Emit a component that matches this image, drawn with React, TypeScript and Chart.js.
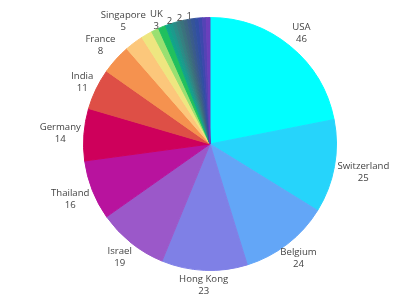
import React, { useEffect, useRef } from "react";
import { Chart, registerables } from "chart.js";

Chart.register(...registerables);

const countries = [
  "USA", "Switzerland", "Belgium", "Hong Kong", "Israel", "Thailand", "Germany",
  "India", "France", "Singapore", "UK", "", "", "", "", "", "", "", "", "", "", "", "", "", "",
];
const values = [46, 25, 24, 23, 19, 16, 14, 11, 8, 5, 3, 2, 2, 1, 1, 1, 1, 1, 1, 1, 1, 1, 1, 1, 1];
const colors = [
  "#00FFFF", "#26D4FB", "#63A6F7", "#7F80E6", "#9B58C9", "#B8139E", "#CE005B",
  "#DE4F46", "#F5924F", "#FCC77B", "#EEE680", "#99E071", "#20C05E", "#10A58A",
  "#1B9A8C", "#2A8C86", "#357F80", "#3A727C", "#3C6680", "#3A5C8A", "#355597",
  "#314FA3", "#3D48AD", "#5443B5", "#6A3FBC",
];
const labeledCount = 14;

const FONT_SIZE = 9.6;
const LINE_H = 12;
const TEXT_COLOR = "#444444";

type Box = { cx: number; cy: number; l: number; r: number; t: number; b: number };

const outsideLabels = {
  id: "outsideLabels",
  afterDatasetsDraw(chart: any) {
    const ctx = chart.ctx;
    const meta = chart.getDatasetMeta(0);
    ctx.save();
    ctx.font = `${FONT_SIZE}px "Open Sans"`;
    ctx.fillStyle = TEXT_COLOR;
    ctx.textAlign = "center";
    ctx.textBaseline = "middle";
    const placed: Box[] = [];
    const gap = 3;
    const pad = 4;
    const overlaps = (bx: Box) =>
      placed.some((p) => bx.l < p.r + pad && bx.r > p.l - pad && bx.t < p.b && bx.b > p.t);
    for (let i = 0; i < Math.min(labeledCount, meta.data.length); i++) {
      const arc = meta.data[i];
      const { x, y, startAngle, endAngle, outerRadius } = arc.getProps(
        ["x", "y", "startAngle", "endAngle", "outerRadius"],
        true
      );
      const name = countries[i];
      const lines = name ? [name, String(values[i])] : [String(values[i])];
      const w = Math.max(...lines.map((s) => ctx.measureText(s).width));
      const h = lines.length * LINE_H;
      const make = (cx: number, cy: number): Box => ({
        cx, cy, l: cx - w / 2, r: cx + w / 2, t: cy - h / 2, b: cy + h / 2,
      });
      const a = (startAngle + endAngle) / 2;
      const ux = Math.cos(a);
      const uy = Math.sin(a);
      const t = Math.min(
        Math.abs(ux) > 1e-6 ? w / 2 / Math.abs(ux) : Infinity,
        Math.abs(uy) > 1e-6 ? h / 2 / Math.abs(uy) : Infinity
      );
      const d = outerRadius + gap + t;
      let box = make(x + d * ux, y + d * uy);
      if (overlaps(box)) {
        const vdir = uy < 0 ? -1 : 1;
        let found: Box | null = null;
        for (let s = 0.5; s <= 10; s += 0.5) {
          const cand = make(box.cx, box.cy + vdir * s);
          if (!overlaps(cand)) { found = cand; break; }
        }
        if (!found) {
          // slide along the clockwise tangent direction horizontally
          const hdir = uy < 0 ? 1 : -1;
          let s = 0.5;
          let cand = make(box.cx + hdir * s, box.cy);
          while (overlaps(cand) && s < 200) {
            s += 0.5;
            cand = make(box.cx + hdir * s, box.cy);
          }
          found = cand;
        }
        box = found;
      }
      placed.push(box);
      lines.forEach((s, k) => {
        ctx.fillText(s, box.cx, box.t + LINE_H / 2 + k * LINE_H);
      });
    }
    ctx.restore();
  },
};

export default function App() {
  const ref = useRef<HTMLCanvasElement | null>(null);
  useEffect(() => {
    if (!ref.current) return;
    const chart = new Chart(ref.current, {
      type: "pie",
      data: {
        labels: countries,
        datasets: [
          {
            data: values,
            backgroundColor: colors,
            borderColor: colors,
            borderWidth: 1,
          },
        ],
      },
      options: {
        animation: false,
        responsive: false,
        layout: { padding: { left: 83, right: 63, top: 17, bottom: 29 } },
        plugins: { legend: { display: false }, tooltip: { enabled: false } },
      },
      plugins: [outsideLabels],
    });
    return () => chart.destroy();
  }, []);
  return (
    <div style={{ position: "fixed", left: 0, top: 0, width: 400, height: 300, background: "#fff" }}>
      <canvas ref={ref} width={400} height={300} style={{ width: 400, height: 300 }} />
    </div>
  );
}
